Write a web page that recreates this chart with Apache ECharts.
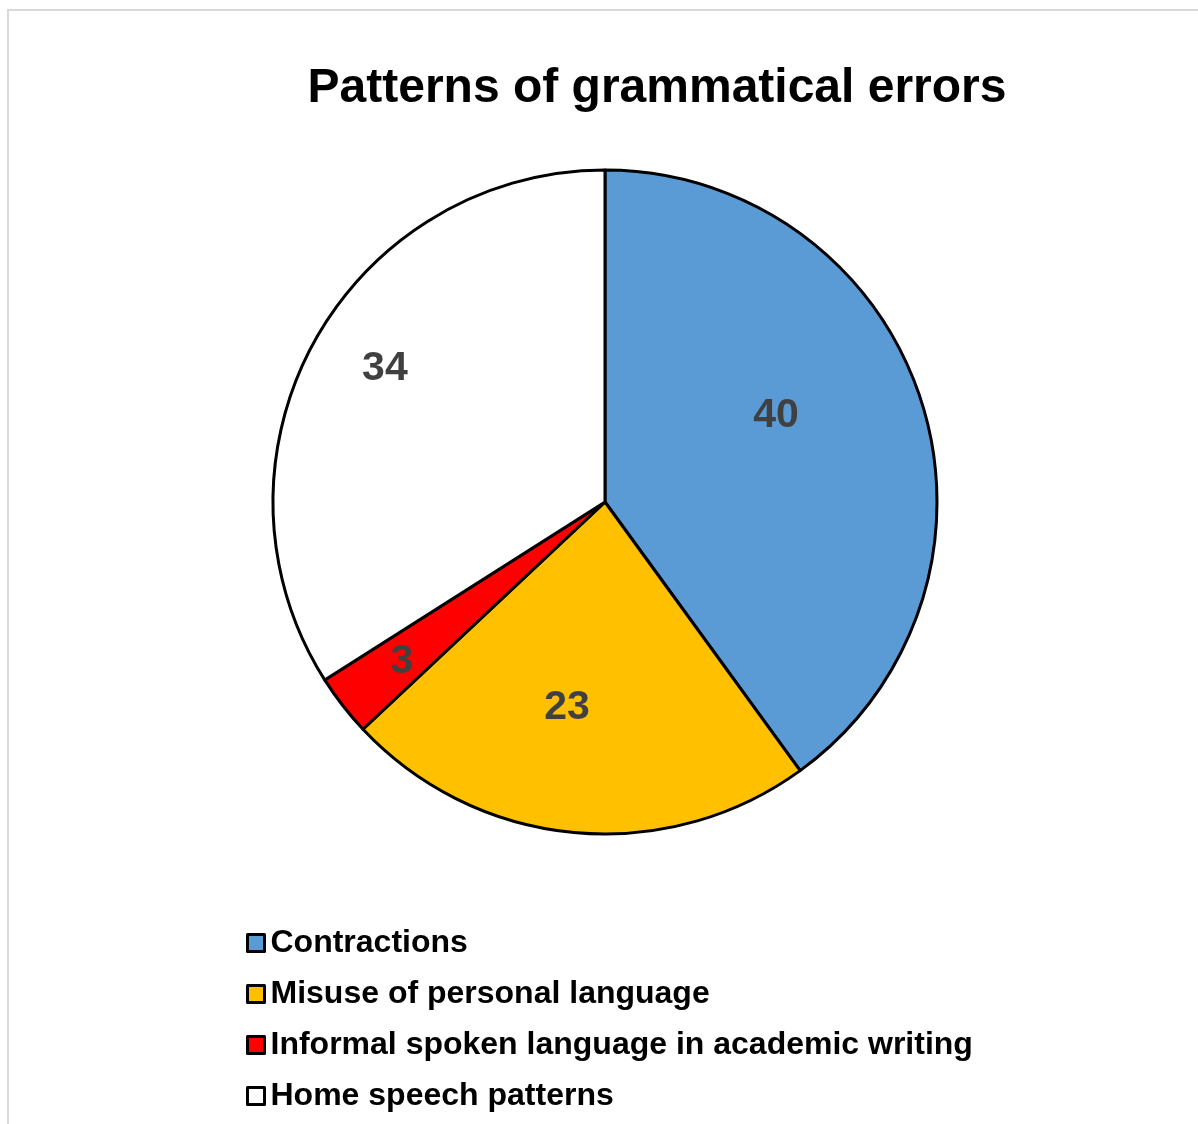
<!DOCTYPE html>
<html>
<head>
<meta charset="utf-8">
<script src="https://cdn.jsdelivr.net/npm/echarts@6/dist/echarts.min.js"></script>
<style>
html, body { margin: 0; padding: 0; background: #fff; }
#frame { position: absolute; left: 7px; top: 9px; width: 1300px; height: 1300px; border-left: 2px solid #d9d9d9; border-top: 2px solid #d9d9d9; }
#chart { position: absolute; left: 0; top: 0; width: 1198px; height: 1124px; }
</style>
</head>
<body>
<div id="frame"></div>
<div id="chart"></div>
<script>
const title = 'Patterns of grammatical errors';
const categories = ['Contractions', 'Misuse of personal language', 'Informal spoken language in academic writing', 'Home speech patterns'];
const values = [40, 23, 3, 34];
const colors = ['#5B9BD5', '#FFC000', '#FF0000', '#FFFFFF'];
// label placement (style): angular shift from slice mid-angle (deg) and radius fraction
const labelAngleShift = [-9.5, 5.2, 0.2, 3.0];
const labelRadiusFrac = [0.581, 0.622, 0.772, 0.78];

const CX = 605, CY = 502, R = 332;
const total = values.reduce((a, b) => a + b, 0);
const midAngles = [];
let acc = 0;
values.forEach(v => { midAngles.push((acc + v / 2) / total * 360); acc += v; });

const chart = echarts.init(document.getElementById('chart'), null, { renderer: 'canvas' });
chart.setOption({
  animation: false,
  backgroundColor: 'transparent',
  title: {
    text: title,
    left: 652,
    textAlign: 'center',
    top: 60,
    textStyle: { fontFamily: 'Liberation Sans, Arial, sans-serif', fontWeight: 'bold', fontSize: 48, color: '#000' }
  },
  legend: {
    orient: 'vertical',
    left: 241,
    top: 922,
    itemWidth: 17,
    itemHeight: 17,
    itemGap: 19,
    icon: 'rect',
    itemStyle: { borderColor: '#000', borderWidth: 3 },
    textStyle: { fontFamily: 'Liberation Sans, Arial, sans-serif', fontWeight: 'bold', fontSize: 32, color: '#000', lineHeight: 32, padding: [0, 0, 0, 1] },
    data: categories
  },
  series: [{
    type: 'pie',
    center: [CX, CY],
    radius: R,
    startAngle: 90,
    clockwise: true,
    avoidLabelOverlap: false,
    itemStyle: { borderColor: '#000', borderWidth: 3 },
    label: {
      show: true,
      position: 'inside',
      formatter: '{c}',
      fontFamily: 'Liberation Sans, Arial, sans-serif',
      fontWeight: 'bold',
      fontSize: 41,
      color: '#404040'
    },
    labelLayout: function (params) {
      const i = params.dataIndex;
      const a = (midAngles[i] + labelAngleShift[i]) * Math.PI / 180;
      const d = labelRadiusFrac[i] * R;
      return { x: CX + Math.sin(a) * d, y: CY - Math.cos(a) * d + 3, align: 'center', verticalAlign: 'middle' };
    },
    emphasis: { disabled: true },
    data: categories.map((c, i) => ({ name: c, value: values[i], itemStyle: { color: colors[i] } }))
  }]
});
</script>
</body>
</html>
